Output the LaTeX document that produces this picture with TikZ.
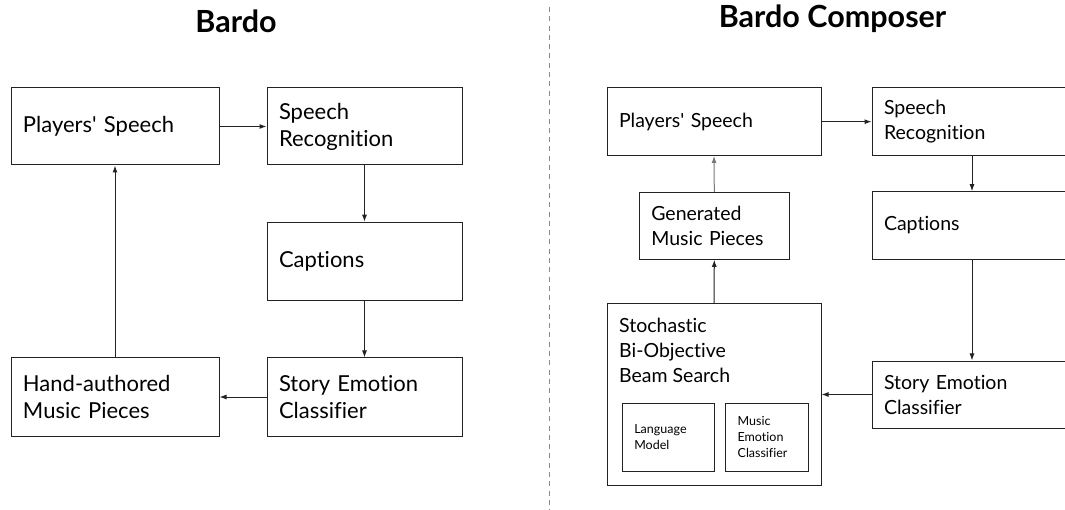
\documentclass[tikz,border=0pt]{standalone}
\usepackage{fontspec}
\setmainfont{Lato}[Ligatures={NoCommon}]
\usetikzlibrary{arrows.meta}
\definecolor{boxline}{HTML}{222222}
\definecolor{divline}{HTML}{8A8A8A}
\definecolor{backarrow}{HTML}{777777}
\tikzset{
  blk/.style={draw=boxline, line width=1pt, rectangle, inner sep=0pt, align=left},
  bigtxt/.style={font=\fontsize{22}{27}\selectfont},
  midtxt/.style={font=\fontsize{19.5}{25}\selectfont},
  smalltxt/.style={font=\fontsize{12.5}{16}\selectfont},
  conn/.style={draw=boxline, line width=1pt, -{Latex[length=7pt,width=5pt]}},
  ttl/.style={font=\bfseries\fontsize{30.5}{34}\selectfont}
}
\begin{document}
\begin{tikzpicture}[x=1pt,y=-1pt]
\useasboundingbox (0,0) rectangle (1065,510);
% divider
\draw[divline, line width=1pt, dash pattern=on 5pt off 4.3pt] (549,7) -- (549,510);
% titles
\node[ttl, anchor=base] (t1) at (236,33) {Bardo};
\node[ttl, anchor=base] (t2) at (832.5,28) {Bardo Composer};
% left diagram
\node[blk, bigtxt, minimum width=208pt, minimum height=77pt, text width=184pt] (ps1) at (115,126.5) {Players\textquotesingle{} Speech};
\node[blk, bigtxt, minimum width=195pt, minimum height=77pt, text width=171pt] (sr1) at (364.5,126.5) {Speech\\Recognition};
\node[blk, bigtxt, minimum width=195pt, minimum height=78.5pt, text width=171pt] (cap1) at (364.5,261.5) {Captions};
\node[blk, bigtxt, minimum width=195pt, minimum height=78pt, text width=171pt] (sec1) at (364.5,397) {Story Emotion\\Classifier};
\node[blk, bigtxt, minimum width=208pt, minimum height=78pt, text width=184pt] (ham1) at (115,397) {Hand-authored\\Music Pieces};
\draw[conn] (ps1.east) -- (sr1.west);
\draw[conn] (sr1.south) -- (cap1.north);
\draw[conn] (cap1.south) -- (sec1.north);
\draw[conn] (sec1.west) -- (ham1.east);
\draw[conn] (ham1.north) -- (ps1.south);
% right diagram
\node[blk, midtxt, minimum width=214pt, minimum height=67.5pt, text width=190pt] (ps2) at (714,121.7) {Players\textquotesingle{} Speech};
\node[blk, midtxt, minimum width=200pt, minimum height=67.5pt, text width=176pt] (sr2) at (972,121.7) {Speech\\Recognition};
\node[blk, midtxt, minimum width=200pt, minimum height=67.6pt, text width=176pt] (cap2) at (972,225.5) {Captions};
\node[blk, midtxt, minimum width=200pt, minimum height=67pt, text width=176pt] (sec2) at (972,394.5) {Story Emotion\\Classifier};
\node[blk, midtxt, minimum width=150pt, minimum height=67pt, text width=126pt] (gen2) at (714.3,225.8) {Generated\\Music Pieces};
\node[blk, minimum width=214pt, minimum height=182.4pt] (st2) at (714,394.5) {};
\node[midtxt, anchor=north west, inner sep=0pt, align=left] (st2t) at (619,318) {Stochastic\\Bi-Objective\\Beam Search};
\node[blk, smalltxt, minimum width=92pt, minimum height=68pt, text width=68pt] (lm2) at (668.3,437) {Language\\Model};
\node[blk, smalltxt, minimum width=83.3pt, minimum height=68pt, text width=59.3pt] (mec2) at (767.3,437) {Music\\Emotion\\Classifier};
\draw[conn] (ps2.east) -- (sr2.west);
\draw[conn] (sr2.south) -- (cap2.north);
\draw[conn] (cap2.south) -- (sec2.north);
\draw[conn] (sec2.west) -- (st2.east);
\draw[conn] (st2.north) -- (gen2.south);
\draw[conn, draw=backarrow] (gen2.north) -- (ps2.south);
\end{tikzpicture}
\end{document}
